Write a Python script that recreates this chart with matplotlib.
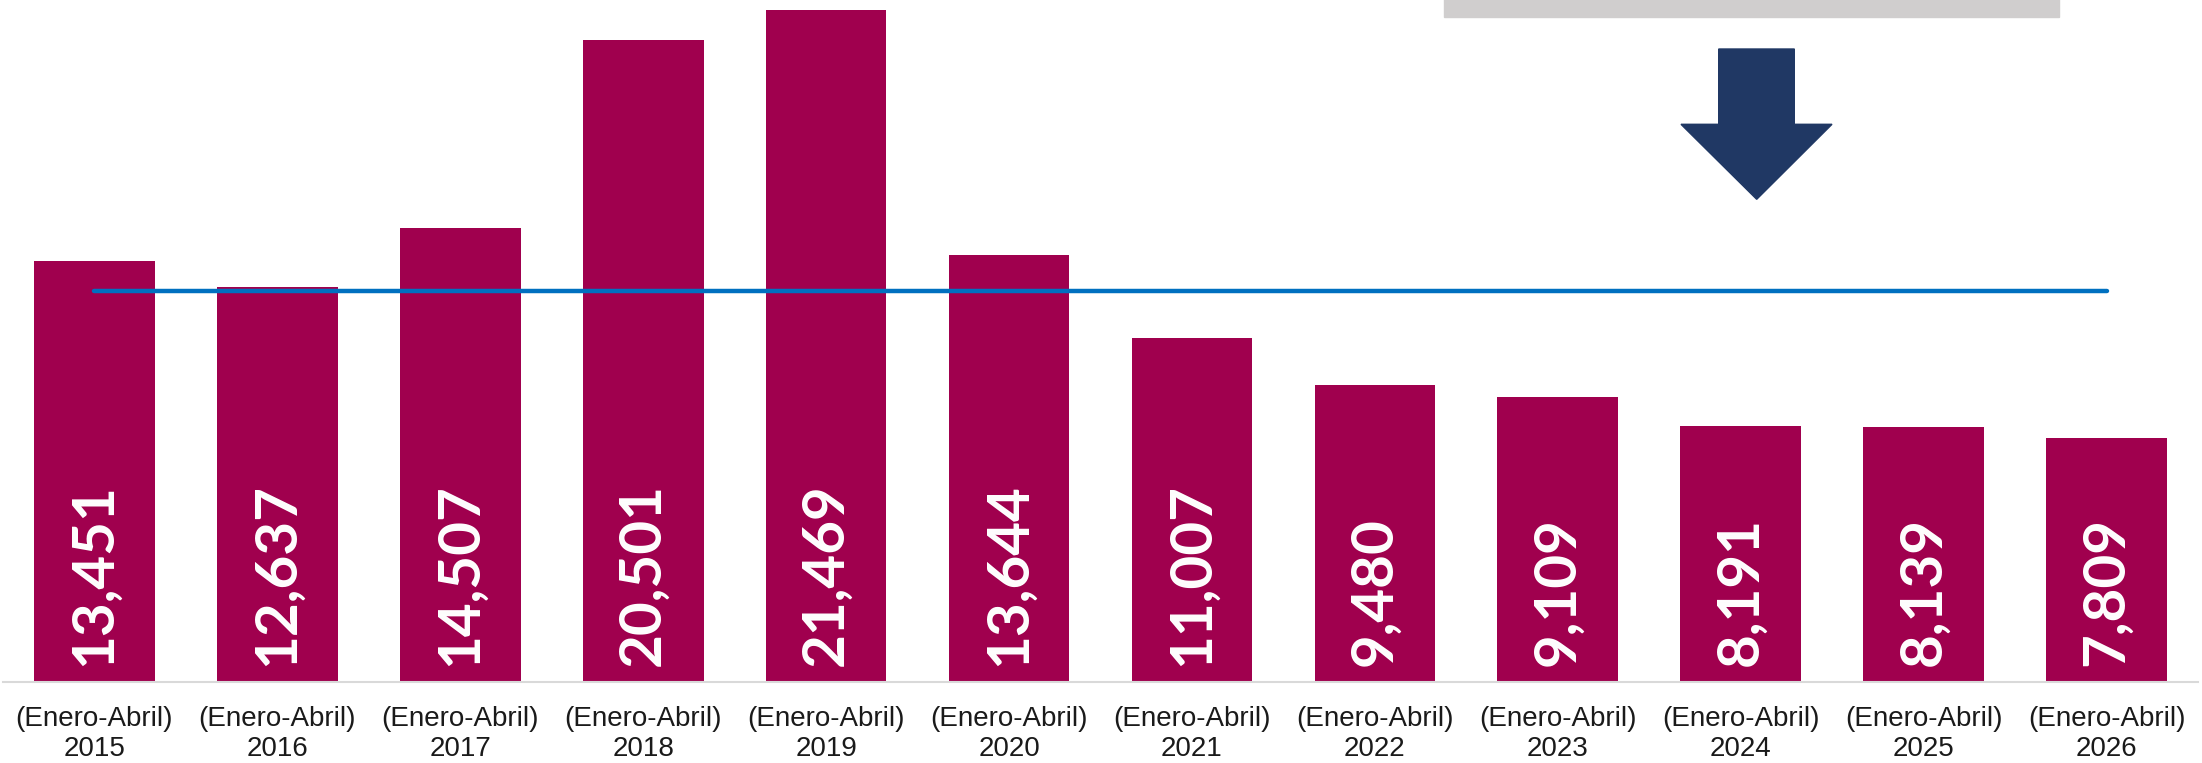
import matplotlib
matplotlib.use("Agg")
import matplotlib.pyplot as plt
from matplotlib.patches import Polygon, Rectangle

years = ["2015", "2016", "2017", "2018", "2019", "2020", "2021", "2022", "2023", "2024", "2025", "2026"]
period = "(Enero-Abril)"
values = [13451, 12637, 14507, 20501, 21469, 13644, 11007, 9480, 9109, 8191, 8139, 7809]

W, H = 2202, 763
DPI = 100
plt.rcParams['font.family'] = ['Liberation Sans', 'DejaVu Sans']

fig = plt.figure(figsize=(W / DPI, H / DPI), dpi=DPI)
ax = fig.add_axes([3 / W, 80.7 / H, 2195 / W, (H - 80.7) / H])

x = list(range(len(values)))
bar_color = "#A0004E"
ax.bar(x, values, width=0.66, color=bar_color, zorder=2)

avg = sum(values) / len(values)
ax.plot([x[0], x[-1]], [avg, avg], color="#0070C0", lw=3.2, solid_capstyle="round", zorder=3)

for xi, v in zip(x, values):
    ax.annotate(f"{v:,}", xy=(xi, 0), xytext=(0, 11.5), textcoords="offset points",
                rotation=90, ha="center", va="bottom", color="white",
                fontsize=42, fontweight="bold", family=["Lato", "DejaVu Sans"], zorder=4)

ax.set_xlim(-0.5, 11.5)
ax.set_ylim(0, 21785)
ax.set_xticks(x)
ax.set_xticklabels([f"{period}\n{y}" for y in years], fontsize=20, color="#1a1a1a", linespacing=1.2)
ax.tick_params(axis="x", length=0, pad=17)
ax.set_yticks([])
for s in ["top", "left", "right"]:
    ax.spines[s].set_visible(False)
ax.spines["bottom"].set_color("#D9D9D9")
ax.spines["bottom"].set_linewidth(1.5)

# decorative gray box at top (cut off)
fig.patches.append(Rectangle((1444 / W, 1 - 16.7 / H), (2058.5 - 1444) / W, 20 / H,
                             transform=fig.transFigure, color="#D0CECE", zorder=1))
# down arrow
pts = [(1718.7, 49), (1794.3, 49), (1794.3, 124.3), (1832, 124.3), (1756.7, 199.3),
       (1681, 124.3), (1718.7, 124.3)]
fig.patches.append(Polygon([(px / W, 1 - py / H) for px, py in pts], closed=True,
                           transform=fig.transFigure, color="#203864", zorder=1))

fig.savefig("out.png", dpi=DPI)
